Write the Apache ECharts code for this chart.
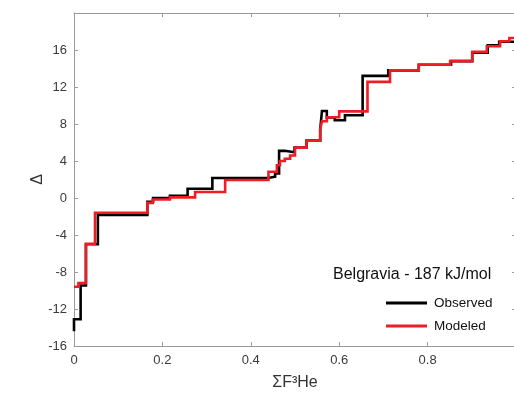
<!DOCTYPE html>
<html>
<head>
<meta charset="utf-8">
<script src="https://cdn.jsdelivr.net/npm/echarts@6/dist/echarts.min.js"></script>
<style>html,body{margin:0;padding:0;background:#fff;overflow:hidden}#c{width:520px;height:396px}</style>
</head>
<body>
<div id="c"></div>
<script>
// Observed (black) step function: value y starts at x
var obsX = [0, 0, 0.015, 0.027, 0.054, 0.166, 0.179, 0.217, 0.257, 0.313, 0.439, 0.455, 0.464, 0.477, 0.499, 0.526, 0.557, 0.561, 0.572, 0.590, 0.613, 0.653, 0.711, 0.780, 0.853, 0.901, 0.936, 0.962, 1.0];
var obsY = [-14.4, -13.1, -9.46, -5.0, -1.83, -0.4, 0.0, 0.25, 1.0, 2.16, 2.3, 2.65, 5.1, 4.95, 5.45, 6.2, 7.4, 9.4, 8.7, 8.4, 8.94, 13.2, 13.8, 14.4, 14.8, 15.7, 16.5, 16.9, 16.9];
// Modeled (red) step function
var modX = [0, 0.010, 0.027, 0.0475, 0.166, 0.178, 0.217, 0.274, 0.342, 0.440, 0.459, 0.466, 0.477, 0.489, 0.500, 0.526, 0.557, 0.561, 0.572, 0.600, 0.664, 0.715, 0.780, 0.851, 0.901, 0.934, 0.964, 0.985, 1.0];
var modY = [-9.6, -9.2, -4.94, -1.59, -0.53, -0.17, 0.07, 0.65, 1.95, 2.83, 3.54, 4.0, 4.24, 4.6, 5.45, 6.2, 7.4, 8.3, 8.73, 9.37, 12.55, 13.8, 14.4, 14.8, 15.8, 16.4, 16.95, 17.3, 17.3];
var seriesNames = ['Observed', 'Modeled'];
var titleText = 'Belgravia - 187 kJ/mol';
var xName = 'ΣF³He';
var yName = 'Δ';

function pairs(xs, ys) { return xs.map(function (x, i) { return [x, ys[i]]; }); }

var font = 'Liberation Sans, Arial, Helvetica, sans-serif';
var axisGray = '#9a9a9a';
var labelColor = '#3a3a3a';

var chart = echarts.init(document.getElementById('c'), null, { renderer: 'canvas' });
chart.setOption({
  animation: false,
  backgroundColor: '#fff',
  textStyle: { fontFamily: font },
  title: {
    text: titleText, left: 333, top: 267, padding: 0,
    textStyle: { fontSize: 16, fontWeight: 'normal', color: '#111', fontFamily: font }
  },
  legend: {
    data: seriesNames, orient: 'vertical', left: 386, top: 296, padding: 0,
    icon: 'rect', itemWidth: 41, itemHeight: 3, itemGap: 9,
    textStyle: { fontSize: 13.5, color: '#111', fontFamily: font, padding: [0, 0, 0, 2] }
  },
  grid: { left: 74, top: 13, right: 4, bottom: 43, containLabel: false },
  xAxis: [{
    type: 'value', min: 0, max: 1, interval: 0.2,
    name: xName, nameLocation: 'middle', nameGap: 29, nameMoveOverlap: false,
    nameTextStyle: { fontSize: 16, color: '#333', fontFamily: font },
    axisLine: { onZero: false, lineStyle: { color: axisGray, width: 1 } },
    axisTick: { inside: true, length: 4, lineStyle: { color: axisGray } },
    axisLabel: { margin: 8, fontSize: 13, color: labelColor, fontFamily: font,
      formatter: function (v) { return v >= 1 ? '' : String(+v.toFixed(1)); } },
    splitLine: { show: false }
  }, {
    type: 'value', position: 'top', min: 0, max: 1, interval: 0.2,
    axisLine: { show: true, onZero: false, lineStyle: { color: axisGray, width: 1 } },
    axisTick: { inside: true, length: 4, lineStyle: { color: axisGray } },
    axisLabel: { show: false }, splitLine: { show: false }
  }],
  yAxis: [{
    type: 'value', min: -16, max: 20, interval: 4,
    name: yName, nameLocation: 'middle', nameGap: 28, nameMoveOverlap: false,
    nameTextStyle: { fontSize: 16, color: '#333', fontFamily: font },
    axisLine: { show: true, onZero: false, lineStyle: { color: axisGray, width: 1 } },
    axisTick: { inside: true, length: 4, lineStyle: { color: axisGray } },
    axisLabel: { margin: 7, fontSize: 13, color: labelColor, fontFamily: font,
      formatter: function (v) { return v > 16 ? '' : String(v); } },
    splitLine: { show: false }
  }, {
    type: 'value', position: 'right', min: -16, max: 20, interval: 4,
    axisLine: { show: true, onZero: false, lineStyle: { color: axisGray, width: 1 } },
    axisTick: { inside: true, length: 4, lineStyle: { color: axisGray } },
    axisLabel: { show: false }, splitLine: { show: false }
  }],
  series: [{
    name: seriesNames[0], type: 'line', step: 'end', data: pairs(obsX, obsY),
    showSymbol: false, symbol: 'none', color: '#000',
    lineStyle: { color: '#000', width: 2.6, join: 'miter', cap: 'butt' }, z: 2
  }, {
    name: seriesNames[1], type: 'line', step: 'end', data: pairs(modX, modY),
    showSymbol: false, symbol: 'none', color: '#ee1c25',
    lineStyle: { color: '#ee1c25', width: 2.6, join: 'miter', cap: 'butt' }, z: 3
  }]
});
</script>
</body>
</html>
